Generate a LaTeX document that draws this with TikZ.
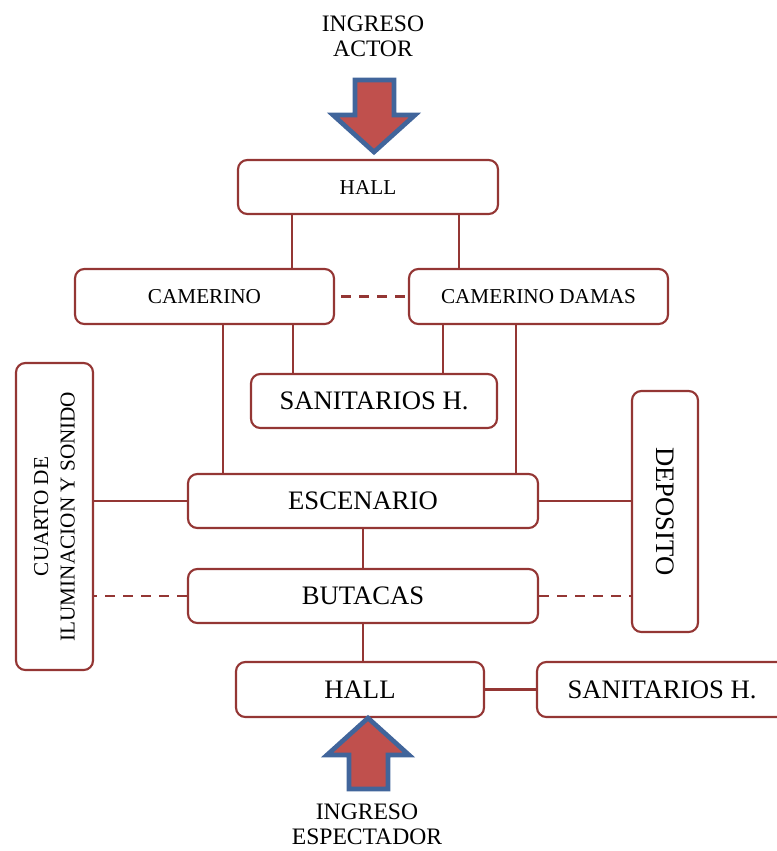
\documentclass[tikz,border=0pt]{standalone}
\usepackage{fontspec}
\setmainfont{Liberation Serif}
\usepackage{tikz}
\usetikzlibrary{positioning,calc}
\definecolor{wallred}{RGB}{148,54,52}
\definecolor{arrowfill}{RGB}{192,80,77}
\definecolor{arrowedge}{RGB}{65,101,155}
\newcommand{\smallfnt}{\fontsize{15.9}{19}\selectfont}
\newcommand{\midfnt}{\fontsize{17.7}{21}\selectfont}
\newcommand{\bigfnt}{\fontsize{20}{24}\selectfont}
% px -> pt for sizes given in plan pixels
\newcommand{\px}[1]{#1*0.75pt}
\tikzset{
  room/.style={draw=wallred,line width=1.6pt,rounded corners=7pt,fill=white,
               align=center,inner sep=2pt},
  link/.style={draw=wallred,line width=1.6pt},
  dashlink/.style={link,dash pattern=on 7.5pt off 6pt},
  entry/.style={draw=arrowedge,fill=arrowfill,line width=3.5pt,line join=miter},
}
\begin{document}
\begin{tikzpicture}[x=0.75pt,y=-0.75pt]
  \useasboundingbox (0,0) rectangle (776,851);

  % Rooms (coordinates in pixels of the plan, y downwards)
  \node[room,font=\smallfnt,minimum width=\px{260},minimum height=\px{54}] (hallA) at (368,187) {HALL};
  \node[room,font=\smallfnt,minimum width=\px{259},minimum height=\px{55}] (camH) at (204.5,296.5) {CAMERINO};
  \node[room,font=\smallfnt,minimum width=\px{259},minimum height=\px{55}] (camD) at (538.5,296.5) {CAMERINO DAMAS};
  \node[room,font=\bigfnt,minimum width=\px{246},minimum height=\px{54}] (sanA) at (374,401) {SANITARIOS H.};
  \node[room,font=\smallfnt,rotate=90,minimum width=\px{307},minimum height=\px{77}] (cuarto) at (54.5,516.5)
    {CUARTO DE\\[1pt] ILUMINACION Y SONIDO};
  \node[room,font=\bigfnt,rotate=-90,minimum width=\px{241},minimum height=\px{66}] (depo) at (665,511.5) {DEPOSITO};
  \node[room,font=\bigfnt,minimum width=\px{350},minimum height=\px{54}] (esc) at (363,501) {ESCENARIO};
  \node[room,font=\bigfnt,minimum width=\px{350},minimum height=\px{54}] (but) at (363,596) {BUTACAS};
  \node[room,font=\bigfnt,minimum width=\px{248},minimum height=\px{55}] (hallB) at (360,689.5) {HALL};
  \node[room,font=\bigfnt,minimum width=\px{250},minimum height=\px{55}] (sanB) at (662,689.5) {SANITARIOS H.};

  % Connections
  \draw[link] ([xshift=\px{55}]hallA.south west) -- ([xshift=\px{55}]hallA.south west |- camH.north);
  \draw[link] ([xshift=-\px{40}]hallA.south east) -- ([xshift=-\px{40}]hallA.south east |- camD.north);
  \draw[dashlink] ([xshift=\px{6}]camH.east) -- (camD.west);
  \draw[link] ([xshift=-\px{81}]sanA.north) -- ([xshift=-\px{81}]sanA.north |- camH.south);
  \draw[link] ([xshift=\px{69}]sanA.north) -- ([xshift=\px{69}]sanA.north |- camD.south);
  \draw[link] ([xshift=\px{36}]esc.north west) -- ([xshift=\px{36}]esc.north west |- camH.south);
  \draw[link] ([xshift=-\px{23}]esc.north east) -- ([xshift=-\px{23}]esc.north east |- camD.south);
  \draw[link] (esc.west) -- (esc.west -| cuarto.south);
  \draw[link] (esc.east) -- (esc.east -| depo.south);
  \draw[link] (esc.south) -- (but.north);
  \draw[dashlink] (but.west) -- (but.west -| cuarto.south);
  \draw[dashlink] (but.east) -- (but.east -| depo.south);
  \draw[link] (but.south) -- (but.south |- hallB.north);
  \draw[link] (hallB.east) -- (sanB.west);

  % Entrance arrows
  \draw[entry] (355,80) -- (394,80) -- (394,115) -- (415,115) -- (374,152)
    -- (333,115) -- (355,115) -- cycle;
  \draw[entry] (349,789) -- (388,789) -- (388,755) -- (409,755) -- (368,718)
    -- (327,755) -- (349,755) -- cycle;
  \node[align=center,font=\midfnt] (ingA) at (373,36) {INGRESO\\[-2pt] ACTOR};
  \node[align=center,font=\midfnt] (ingE) at (367,824) {INGRESO\\[-2pt] ESPECTADOR};
\end{tikzpicture}
\end{document}
